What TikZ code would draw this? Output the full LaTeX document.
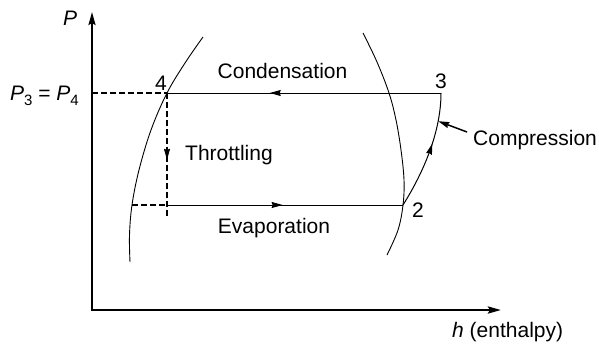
\documentclass[tikz,border=0pt]{standalone}
\usepackage{fontspec}
\setmainfont{Liberation Sans}
\usetikzlibrary{arrows.meta,decorations.markings}
\begin{document}
\begin{tikzpicture}[x=1pt,y=-1pt,
  lbl/.style={inner sep=0pt,font=\fontsize{21pt}{25pt}\selectfont},
  axis/.style={line width=2pt,-{Stealth[length=13pt,width=7pt,inset=2pt]}},
  cyc/.style={line width=1pt},
  sat/.style={line width=0.9pt},
  dsh/.style={line width=1.6pt,dash pattern=on 6pt off 3pt},
  midarrow/.style={postaction={decorate},decoration={markings,mark=at position #1 with {\arrow[solid,line width=1pt]{Stealth[length=11pt,width=6pt,inset=1pt]}}}}
]
\useasboundingbox (0,0) rectangle (599,343);
% axes
\coordinate (O) at (92,310);
\coordinate (Ptop) at (92,12);
\coordinate (Hend) at (501,310);
\draw[axis] (O) -- (Ptop);
\draw[axis,line width=2.5pt] (91,310) -- (Hend);
% cycle points
\coordinate (p4) at (167,93);
\coordinate (p3) at (441,93);
\coordinate (p2) at (403,205);
\coordinate (p1) at (167,205);
\coordinate (p1x) at (167,218);
\coordinate (ax4) at (92,93);
\coordinate (s1) at (132,205);
% saturation curves
\draw[sat] plot[smooth,tension=0.6] coordinates {(203,37) (185,63) (167,93) (151,130) (139,170) (132,205) (129.5,235) (130,262)};
\draw[sat] plot[smooth,tension=0.6] coordinates {(363,33) (377,62) (389,93) (396,120) (401,150) (404,180) (403,205) (398,230) (387,255)};
% cycle
\draw[cyc,midarrow=0.625] (p3) -- (p4);
\draw[cyc,midarrow=0.49] (p1) -- (p2);
\draw[dsh,midarrow=0.535] (p4) -- (p1x);
\draw[dsh] (ax4) -- (p4);
\draw[dsh] (s1) -- (p1);
\draw[cyc,midarrow=0.57] (p2) .. controls (425,170) and (441,130) .. coordinate[pos=0.75] (cm) (p3);
% compression pointer
\coordinate (ptr) at (467,132);
\draw[line width=1.5pt,-{Stealth[length=11pt,width=6pt,inset=1pt]}] (ptr) -- (cm);
% labels
\node[lbl,anchor=base] (lc) at (282.5,78) {Condensation};
\node[lbl,anchor=base] (le) at (274,233) {Evaporation};
\node[lbl,anchor=base west] (lt) at (185,160) {Throttling};
\node[lbl,anchor=base west] (lcomp) at (473,145) {Compression};
\node[lbl,anchor=base] (n3) at (441,88) {3};
\node[lbl,anchor=base] (n4) at (161,90) {4};
\node[lbl,anchor=base] (n2) at (418,217) {2};
\node[lbl,anchor=base west] (lP) at (63,25) {\itshape P};
\node[lbl,anchor=base west] (lpp) at (10,100) {\itshape P\upshape\raisebox{-5pt}{\fontsize{15pt}{15pt}\selectfont 3} = \itshape P\upshape\raisebox{-5pt}{\fontsize{15pt}{15pt}\selectfont 4}};
\node[lbl,anchor=base west] (lh) at (452,337) {\itshape h\upshape{} (enthalpy)};
\end{tikzpicture}
\end{document}
